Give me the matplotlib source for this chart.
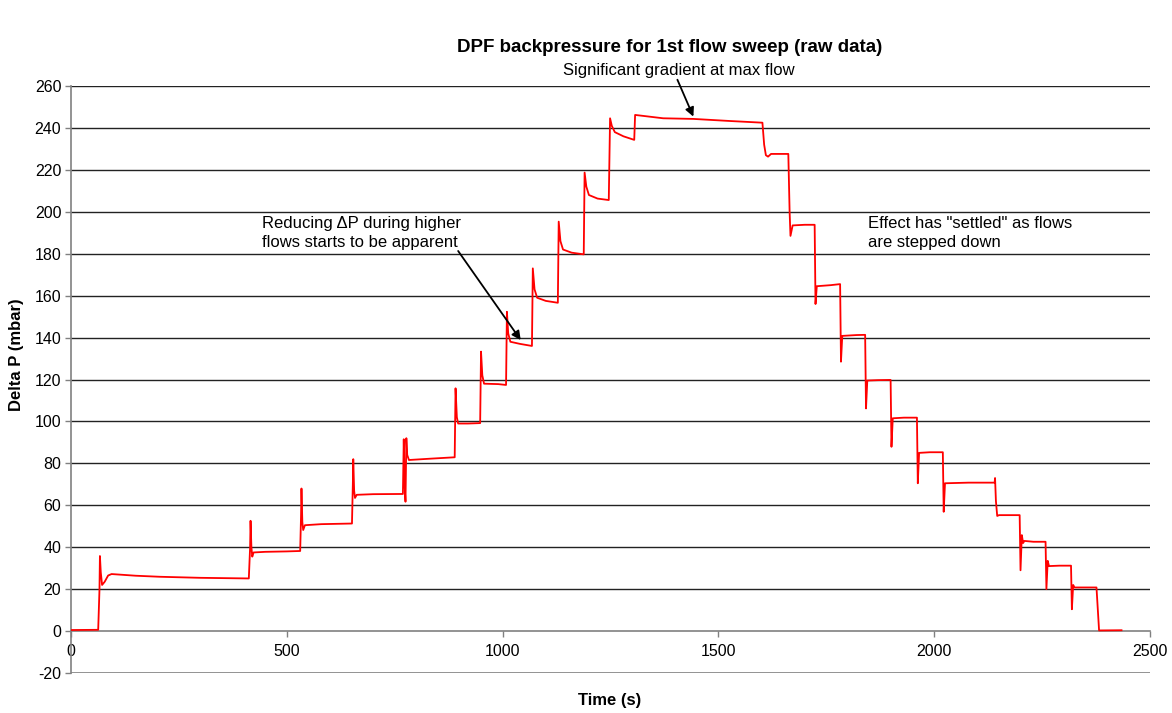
import matplotlib
matplotlib.use("Agg")
import matplotlib.pyplot as plt

plt.rcParams['font.family'] = ['Liberation Sans', 'DejaVu Sans']
plt.rcParams['axes.unicode_minus'] = False

# Raw DPF differential pressure trace during the first flow sweep
time_s = [
    0, 63, 66, 67, 69, 72, 78, 86, 94, 150, 206, 300, 412,
    415, 416, 418, 420, 423, 450, 500, 531,
    533, 534, 536, 538, 542, 580, 630, 651,
    653, 654, 656, 658, 662, 700, 769,
    771, 773, 775, 777, 779, 783, 830, 889,
    891, 894, 897, 920, 948,
    950, 953, 957, 990, 1008,
    1010, 1013, 1018, 1040, 1068,
    1070, 1074, 1080, 1100, 1128,
    1130, 1134, 1140, 1160, 1188,
    1190, 1194, 1200, 1220, 1246,
    1249, 1253, 1260, 1280, 1305,
    1307, 1372, 1442, 1527, 1602,
    1606, 1610, 1615, 1622, 1662,
    1665, 1667, 1672, 1700, 1723,
    1725, 1728, 1760, 1782,
    1784, 1787, 1820, 1840,
    1842, 1845, 1870, 1899,
    1901, 1904, 1930, 1960,
    1962, 1965, 1990, 2020,
    2022, 2025, 2080, 2140, 2141, 2143, 2146, 2150, 2198,
    2200, 2203, 2206, 2209, 2230, 2258,
    2260, 2263, 2266, 2290, 2317,
    2319, 2322, 2325, 2350, 2376,
    2382, 2434,
]
delta_p_mbar = [
    0.5, 0.6, 20, 35.8, 28, 22, 23.5, 26.5, 27.2, 26.4, 25.9, 25.4, 25.1,
    40, 52.6, 40, 35.5, 37.5, 37.8, 38, 38.2,
    55, 68, 52, 48.2, 50.5, 51, 51.2, 51.3,
    70, 82, 67, 63.5, 65, 65.3, 65.4,
    91.5, 70, 61.7, 92, 84, 81.6, 82.2, 82.9,
    115.8, 102, 99, 99, 99.2,
    133.3, 122, 118, 117.8, 117.4,
    152.3, 142, 138, 137, 136,
    173, 163, 159, 157.5, 156.6,
    195.3, 186, 182, 180.5, 179.7,
    218.7, 212, 208, 206.3, 205.6,
    244.6, 241, 238, 236, 234.3,
    246.2, 244.6, 244.3, 243.3, 242.5,
    232, 227, 226.3, 227.6, 227.6,
    200, 188.5, 193.5, 193.8, 193.8,
    156, 164.5, 165, 165.5,
    128.5, 140.8, 141.2, 141.3,
    106.2, 119.5, 119.7, 119.8,
    87.9, 101.5, 101.8, 101.8,
    70.5, 85, 85.3, 85.3,
    56.9, 70.5, 70.8, 70.8, 73, 62, 54.9, 55.3, 55.3,
    29, 45.8, 42, 43, 42.6, 42.6,
    20, 33.5, 31, 31.2, 31.2,
    10.4, 22, 20.8, 20.8, 20.8,
    0.3, 0.4,
]

x_ticks = [0, 500, 1000, 1500, 2000, 2500]
y_ticks = list(range(-20, 261, 20))

fig = plt.figure(figsize=(11.72, 7.13), dpi=100)
ax = fig.add_axes([71 / 1172, 1 - 673 / 713, (1150 - 71) / 1172, (673 - 86) / 713])

ax.set_xlim(0, 2500)
ax.set_ylim(-20, 260)

# horizontal gridlines at every major y tick
for yv in y_ticks:
    if yv in (0, -20):
        continue
    ax.axhline(yv, color='#222222', lw=1.0, zorder=1)
ax.axhline(-20, color='#808080', lw=1.2, zorder=1)

ax.plot(time_s, delta_p_mbar, color='#ff0000', lw=1.3, zorder=3)

for side in ('top', 'right'):
    ax.spines[side].set_visible(False)
ax.spines['left'].set_color('#808080')
ax.spines['left'].set_linewidth(1.2)
ax.spines['bottom'].set_position(('data', 0))
ax.spines['bottom'].set_color('#808080')
ax.spines['bottom'].set_linewidth(1.2)

ax.set_xticks(x_ticks)
ax.set_yticks(y_ticks)
ax.tick_params(axis='both', direction='out', length=4, width=1, color='#808080',
               labelsize=11.5, pad=3)
ax.tick_params(axis='x', pad=5)

fig.text(670 / 1172, 1 - 47 / 713, 'DPF backpressure for 1st flow sweep (raw data)',
         ha='center', va='center', fontsize=13.5, fontweight='bold')
fig.text(610 / 1172, 1 - 700 / 713, 'Time (s)', ha='center', va='center',
         fontsize=12, fontweight='bold')
fig.text(17 / 1172, 1 - 355 / 713, 'Delta P (mbar)', ha='center', va='center',
         rotation=90, fontsize=12, fontweight='bold')

arrow_style = dict(arrowstyle='-|>', color='black', lw=1.3, mutation_scale=13,
                   shrinkA=0, shrinkB=0)

ax.text(1140, 267.6, 'Significant gradient at max flow', ha='left', va='center',
        fontsize=12, clip_on=False)
ax.annotate('', xy=(1442, 245.4), xytext=(1405, 263), arrowprops=arrow_style,
            annotation_clip=False)

ax.text(442, 189.9, 'Reducing ΔP during higher\nflows starts to be apparent',
        ha='left', va='center', fontsize=12, linespacing=1.38)
ax.annotate('', xy=(1042, 138.8), xytext=(897, 181.3), arrowprops=arrow_style)

ax.text(1847, 189.9, 'Effect has "settled" as flows\nare stepped down', ha='left',
        va='center', fontsize=12, linespacing=1.38)

fig.savefig('out.png', dpi=100)
